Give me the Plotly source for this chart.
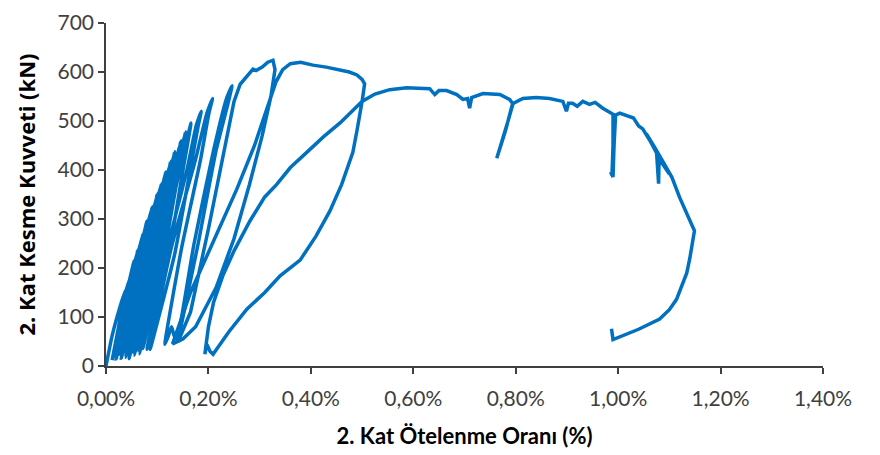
import plotly.graph_objects as go

# --- data: drift ratio (%) and storey shear (kN) ---
# small early cycles (dense fan starting at the origin)
early_x = [0.000, 0.012, 0.026, 0.038, 0.032, 0.022, 0.012,
           0.024, 0.035, 0.045, 0.039, 0.031, 0.018,
           0.031, 0.044, 0.055, 0.047, 0.036, 0.020,
           0.035, 0.050, 0.062, 0.054, 0.043, 0.026,
           0.042, 0.058, 0.072, 0.063, 0.050, 0.030,
           0.048, 0.065, 0.080, 0.070, 0.056, 0.034,
           0.054, 0.073, 0.090, 0.079, 0.063, 0.038,
           0.060, 0.082, 0.100, 0.087, 0.070, 0.042,
           0.066, 0.088, 0.108, 0.094, 0.075, 0.045,
           0.070, 0.096, 0.117, 0.102, 0.082, 0.050,
           0.077, 0.104, 0.126, 0.110, 0.089, 0.055,
           0.083, 0.111, 0.134, 0.118, 0.096, 0.060,
           0.090, 0.121, 0.146, 0.128, 0.104, 0.065,
           0.097, 0.129, 0.155, 0.137, 0.112, 0.072,
           0.105, 0.140, 0.166, 0.147, 0.121, 0.080,
           0.117, 0.158, 0.176, 0.186, 0.180, 0.164, 0.134, 0.086,
           0.127, 0.174, 0.197, 0.208, 0.201, 0.184, 0.148, 0.115,
           0.122, 0.128, 0.133, 0.138,
           0.172, 0.210, 0.235, 0.246, 0.238, 0.215, 0.180, 0.140]
early_y = [0, 62, 116, 155, 116, 62, 12,
           77, 136, 175, 136, 81, 20,
           98, 166, 215, 165, 95, 14,
           104, 182, 238, 184, 110, 24,
           122, 208, 270, 206, 118, 16,
           128, 226, 296, 229, 133, 28,
           147, 250, 325, 248, 138, 18,
           152, 268, 352, 272, 156, 30,
           167, 286, 372, 283, 158, 15,
           167, 301, 396, 304, 175, 28,
           184, 320, 418, 319, 180, 22,
           188, 334, 438, 337, 195, 32,
           203, 353, 460, 351, 201, 25,
           206, 365, 478, 368, 223, 36,
           220, 381, 496, 380, 218, 34,
           228, 400, 490, 520, 490, 398, 228, 34,
           239, 418, 516, 546, 516, 418, 243, 44,
           62, 80, 62, 56,
           250, 440, 545, 572, 535, 440, 250, 48]

# cycle peaking near 0.33 %
loopA_x = [0.140, 0.165, 0.200, 0.230, 0.250, 0.262, 0.275, 0.287, 0.293, 0.305, 0.316, 0.326,
           0.330, 0.322, 0.305, 0.280, 0.250, 0.215, 0.175, 0.150, 0.130]
loopA_y = [48, 110, 280, 440, 540, 575, 590, 606, 603, 610, 620, 624,
           605, 550, 470, 370, 260, 160, 80, 55, 45]

# cycle pushed to 0.50 %
loopB_x = [0.165, 0.219, 0.255, 0.290, 0.315, 0.332, 0.345, 0.360, 0.380, 0.404, 0.430,
           0.457, 0.475, 0.490, 0.500, 0.505, 0.503, 0.500,
           0.490, 0.482, 0.460, 0.437, 0.410, 0.379, 0.340, 0.310, 0.275, 0.240,
           0.209, 0.203, 0.197, 0.193]
loopB_y = [150, 276, 360, 450, 530, 580, 605, 617, 620, 614, 610,
           604, 600, 594, 585, 576, 555, 540,
           480, 436, 370, 316, 265, 216, 184, 150, 116, 70,
           24, 30, 44, 24]

# final reloading and plateau
reload_x = [0.200, 0.210, 0.228, 0.250, 0.281, 0.310, 0.333, 0.360, 0.392, 0.425,
            0.457, 0.480, 0.500, 0.525, 0.554, 0.587, 0.632, 0.642, 0.650, 0.665,
            0.685, 0.697, 0.706, 0.710, 0.714, 0.736, 0.769, 0.788, 0.794,
            0.780, 0.763, 0.768, 0.785, 0.795,
            0.814, 0.840, 0.866, 0.892, 0.899, 0.903, 0.911, 0.920, 0.931, 0.944,
            0.955, 0.970, 0.985, 0.990,
            0.990, 0.988, 0.985, 0.990, 0.992, 0.995]
reload_y = [80, 130, 184, 235, 296, 345, 370, 405, 436, 468,
            496, 520, 540, 555, 564, 568, 566, 554, 562, 562,
            554, 544, 546, 526, 548, 556, 554, 544, 536,
            480, 424, 440, 500, 536,
            546, 548, 546, 540, 520, 536, 536, 530, 540, 534,
            538, 526, 516, 514,
            450, 390, 396, 386, 450, 512]

# strength degradation branch
descend_x = [1.003, 1.015, 1.030, 1.040, 1.048, 1.062, 1.075, 1.079, 1.080, 1.092,
             1.100, 1.085, 1.065, 1.055, 1.072, 1.090, 1.105, 1.120, 1.149,
             1.140, 1.134, 1.114, 1.100, 1.081, 1.040, 0.990, 0.987]
descend_y = [516, 512, 506, 490, 484, 460, 436, 372, 428, 408,
             392, 415, 456, 474, 445, 412, 385, 344, 276,
             220, 190, 136, 115, 96, 75, 54, 76]

x_ticks = [0.0, 0.2, 0.4, 0.6, 0.8, 1.0, 1.2, 1.4]
y_ticks = [0, 100, 200, 300, 400, 500, 600, 700]

line_style = dict(color="#0070C0", width=3.5)

fig = go.Figure()
fig.add_trace(go.Scatter(
    x=[v / 100 for v in early_x], y=early_y, mode="lines",
    line=dict(**line_style, shape="spline", smoothing=0.5),
    showlegend=False, hoverinfo="skip"))
fig.add_trace(go.Scatter(
    x=[v / 100 for v in loopA_x + loopB_x + reload_x + descend_x],
    y=loopA_y + loopB_y + reload_y + descend_y, mode="lines",
    line=line_style, showlegend=False, hoverinfo="skip"))

tick_font = dict(family="Lato", size=21, color="#404040")
fig.update_layout(
    width=880, height=455,
    margin=dict(l=98, r=65, t=15, b=97, autoexpand=False),
    plot_bgcolor="white", paper_bgcolor="white",
    separators=",.",
    font=tick_font,
    xaxis=dict(
        range=[0, 0.014], tickvals=[t / 100 for t in x_ticks], tickformat=".2%",
        showgrid=False, zeroline=False, showline=True, linecolor="#404040", linewidth=1.5,
        ticks="outside", ticklen=6, tickcolor="#404040", tickwidth=1.5,
        tickfont=tick_font, ticklabelstandoff=7, ticklabeloverflow="allow",
        title=dict(text="<b>2. Kat Ötelenme Oranı (%)</b>",
                   font=dict(family="Lato", size=22, color="#000000"), standoff=20)),
    yaxis=dict(
        range=[0, 700], tickvals=y_ticks,
        showgrid=False, zeroline=False, showline=True, linecolor="#404040", linewidth=1.5,
        ticks="outside", ticklen=6, tickcolor="#404040", tickwidth=1.5,
        tickfont=tick_font, ticklabeloverflow="allow",
        title=dict(text="<b>2. Kat Kesme Kuvveti (kN)</b>",
                   font=dict(family="Open Sans", size=22, color="#000000"), standoff=16)),
)

fig.write_html("out.html")
